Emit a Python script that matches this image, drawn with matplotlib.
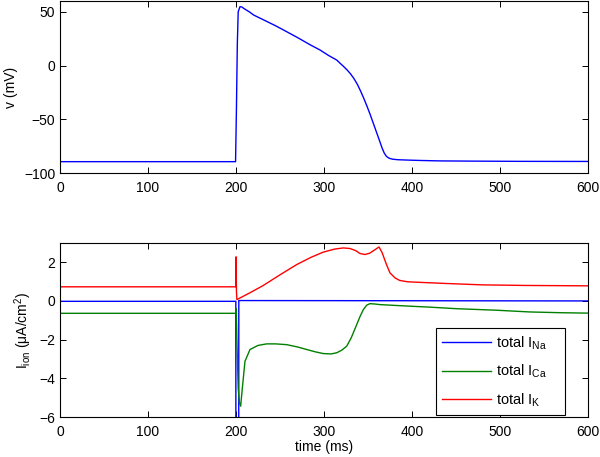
import matplotlib
matplotlib.use("Agg")
import matplotlib.pyplot as plt

plt.rcParams['font.family'] = ['Liberation Sans', 'DejaVu Sans']
plt.rcParams['mathtext.fontset'] = 'custom'
plt.rcParams['mathtext.rm'] = 'Liberation Sans'
plt.rcParams['mathtext.it'] = 'Liberation Sans'
plt.rcParams['mathtext.default'] = 'regular'

# ---- data ----
t_v = [0, 199.5, 200.5, 201.5, 202.5, 204.5, 206.5, 210, 215, 220, 230, 245, 257.6,
       270, 285, 295.5, 305, 314.4, 318, 322, 326, 330, 334, 338, 341.5, 345,
       349, 352.5, 356, 359.5, 363, 366, 368.5, 371, 374, 378, 384, 394, 410, 432, 470, 520, 600]
v = [-89.2, -89.2, -40, 20, 50, 54.7, 54.5, 52.5, 50, 47, 43, 37, 31.5,
     26, 19, 14.5, 9.5, 5.2, 2.4, -0.6, -3.8, -7.5, -12, -17.5, -23.5, -30,
     -38, -45.5, -53.5, -61.5, -69.5, -76.5, -81.3, -84.3, -86.0, -86.9, -87.4, -87.7, -88.1, -88.5, -88.7, -88.9, -89.0]

t_na = [0, 199.8, 200.3, 202.5, 203.2, 600]
i_na = [-0.02, -0.02, -60, -60, 0.02, 0.0]

t_ca = [0, 199.8, 200.3, 201, 202.5, 204, 205.3, 207, 210.2, 215.9, 225, 234.8, 245,
        257.6, 270, 280.3, 290, 299.2, 308, 314.4, 320, 325.8, 331, 337.2, 341, 344.7,
        348.5, 352.3, 358, 363.6, 380, 401.5, 420, 450, 496, 534, 570, 600]
i_ca = [-0.64, -0.64, -0.4, -2.0, -4.5, -5.3, -5.44, -4.6, -3.12, -2.51, -2.3, -2.22, -2.22,
        -2.26, -2.38, -2.51, -2.63, -2.72, -2.74, -2.68, -2.55, -2.34, -1.9, -1.22, -0.8, -0.45,
        -0.22, -0.14, -0.16, -0.19, -0.23, -0.28, -0.32, -0.4, -0.48, -0.57, -0.61, -0.63]

t_k = [0, 199.8, 200.1, 200.5, 201.0, 215, 231, 250, 269, 285, 299, 312, 322,
       329.5, 336, 341, 346.6, 352, 357, 362.5, 366, 371, 375, 380.7, 386, 395, 409,
       440, 480, 530, 600]
i_k = [0.73, 0.73, 2.28, 0.5, 0.07, 0.4, 0.8, 1.35, 1.88, 2.25, 2.52, 2.68, 2.74,
       2.71, 2.6, 2.45, 2.40, 2.47, 2.62, 2.79, 2.5, 1.88, 1.45, 1.19, 1.06, 0.99, 0.96,
       0.9, 0.83, 0.8, 0.78]

xticks = [0, 100, 200, 300, 400, 500, 600]
v_ticks = [-100, -50, 0, 50]
i_ticks = [-6, -4, -2, 0, 2]

fig = plt.figure(figsize=(6.0, 4.57), dpi=100)
ax1 = fig.add_axes([0.1, 0.6208, 0.88, 0.377])
ax2 = fig.add_axes([0.1, 0.0875, 0.88, 0.381])

for ax in (ax1, ax2):
    ax.tick_params(direction='in', top=True, right=True, length=4, width=0.7,
                   labelsize=10)
    ax.tick_params(axis='x', pad=5.5)
    ax.tick_params(axis='y', pad=3.5)
    for s in ax.spines.values():
        s.set_linewidth(0.8)
    ax.set_xlim(0, 600)
    ax.set_xticks(xticks)

ax1.plot(t_v, v, color=(0, 0, 1), lw=1.0)
ax1.set_ylim(-100, 60)
ax1.set_yticks(v_ticks)
ax1.set_ylabel('v (mV)', fontsize=10)

ax2.plot(t_na, i_na, color=(0, 0, 1), lw=1.0, label='total I$_{Na}$')
ax2.plot(t_ca, i_ca, color=(0, 0.5, 0), lw=1.0, label='total I$_{Ca}$')
ax2.plot(t_k, i_k, color=(1, 0, 0), lw=1.0, label='total I$_{K}$')
ax2.set_ylim(-6, 3)
ax2.set_yticks(i_ticks)
ax2.set_ylabel('I$_{ion}$ (\u03bcA/cm$^2$)', fontsize=10)
ax2.set_xlabel('time (ms)', fontsize=10, labelpad=1)

leg = ax2.legend(loc='lower left', bbox_to_anchor=(0.712, 0.011, 0.244, 0.5),
                 mode='expand', borderaxespad=0, fontsize=10.5,
                 fancybox=False, framealpha=1, edgecolor='black',
                 handlelength=3.3, labelspacing=0.75, borderpad=0.45, handletextpad=0.4)
leg.get_frame().set_linewidth(0.8)

fig.savefig('out.png', dpi=100)
